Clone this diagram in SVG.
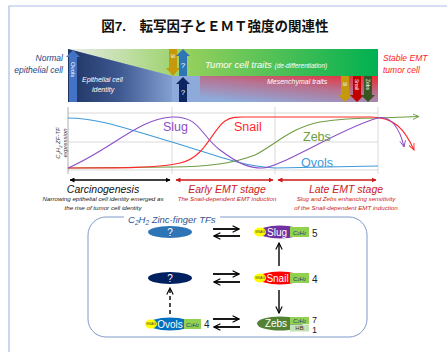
<svg xmlns="http://www.w3.org/2000/svg" width="447" height="352" viewBox="0 0 447 352">
<style>
text{font-family:"Liberation Sans","Noto Sans CJK JP",sans-serif}
.it{font-style:italic}
.w{fill:#fff}
.grid{stroke:#cfcfcf;stroke-width:0.8;fill:none}
.crv{fill:none;stroke-width:1.1}
.xa{stroke:#000;stroke-width:1.8;fill:none}
.c2{fill:#92d050}
.c2t{font-size:6px;font-style:italic;fill:#1f3f7f}
.num{font-size:10px;fill:#222}
.snag{fill:#ffff00}
.snagt{font-size:3.5px;fill:#444}
.nt{font-size:10px;fill:#fff}
</style>
<defs>
<linearGradient id="gGreen" gradientUnits="userSpaceOnUse" x1="68" y1="0" x2="378" y2="0">
<stop offset="0" stop-color="#e8ece6"/>
<stop offset="0.4" stop-color="#92cf5c"/>
<stop offset="1" stop-color="#00b050"/>
</linearGradient>
<linearGradient id="gBlue" gradientUnits="userSpaceOnUse" x1="68" y1="0" x2="180" y2="0">
<stop offset="0" stop-color="#1f3462"/>
<stop offset="0.45" stop-color="#3d5790"/>
<stop offset="1" stop-color="#8eaadb"/>
</linearGradient>
<linearGradient id="gRed" x1="0.25" y1="1" x2="0.9" y2="0">
<stop offset="0" stop-color="#e8303a" stop-opacity="0"/>
<stop offset="0.55" stop-color="#e8303a" stop-opacity="0.45"/>
<stop offset="1" stop-color="#e8303a" stop-opacity="1"/>
</linearGradient>
<marker id="mBlk" viewBox="0 0 10 10" refX="9" refY="5" markerWidth="5" markerHeight="5" orient="auto-start-reverse" markerUnits="userSpaceOnUse">
<path d="M0,0 L10,5 L0,10 z" fill="#000"/>
</marker>
<marker id="mRed" viewBox="0 0 10 10" refX="9" refY="5" markerWidth="5" markerHeight="5" orient="auto-start-reverse" markerUnits="userSpaceOnUse">
<path d="M0,0 L10,5 L0,10 z" fill="#cc1a1a"/>
</marker>
<marker id="mG" viewBox="0 0 10 10" refX="9" refY="5" markerWidth="7" markerHeight="7" orient="auto" markerUnits="userSpaceOnUse">
<path d="M0,1 L9,5 L0,9" fill="none" stroke="#6e9e44" stroke-width="1.3"/>
</marker>
<marker id="mP" viewBox="0 0 10 10" refX="9" refY="5" markerWidth="7" markerHeight="7" orient="auto" markerUnits="userSpaceOnUse">
<path d="M0,1 L9,5 L0,9" fill="none" stroke="#8b4fc8" stroke-width="1.3"/>
</marker>
<marker id="mR" viewBox="0 0 10 10" refX="9" refY="5" markerWidth="7" markerHeight="7" orient="auto" markerUnits="userSpaceOnUse">
<path d="M0,1 L9,5 L0,9" fill="none" stroke="#ff2a2a" stroke-width="1.3"/>
</marker>
<marker id="mV" viewBox="0 0 10 10" refX="9" refY="5" markerWidth="8" markerHeight="8" orient="auto" markerUnits="userSpaceOnUse">
<path d="M1,1 L9,5 L1,9" fill="none" stroke="#000" stroke-width="1.4"/>
</marker>
</defs>

<rect width="447" height="352" fill="#fff"/>
<path d="M9,352 L9,6 L447,6" fill="none" stroke="#a9bce3" stroke-width="1.2"/>

<text x="215" y="31" text-anchor="middle" font-size="13.5" font-weight="bold" fill="#111">図7.　転写因子とＥＭＴ強度の関連性</text>

<!-- top band -->
<g id="band">
<rect x="68" y="49" width="310" height="53" fill="#8eaadb"/>
<polygon points="68,49 378,49 378,76 172,76" fill="url(#gGreen)"/>
<polygon points="68,49 172,76 378,76 378,102 68,102" fill="url(#gBlue)"/>
<rect x="172" y="76" width="206" height="26" fill="#8eaadb"/>
<rect x="200" y="76" width="178" height="26" fill="url(#gRed)"/>
<text x="205" y="68" class="it w" font-size="9.5">Tumor cell traits <tspan font-size="6.5">(de-differentiation)</tspan></text>
<text x="82" y="82" class="it w" font-size="7">Epithelial cell</text>
<text x="92" y="92" class="it w" font-size="7">identity</text>
<text x="267" y="84" class="it w" font-size="7">Mesenchymal traits</text>
</g>

<g id="band-arrows">
<polygon points="69,102 69,57 66,57 73,50 80,57 77,57 77,102" fill="#4472c4"/>
<text transform="translate(71,62) rotate(90)" class="w" font-size="6">Ovols</text>
<polygon points="169,49 177,49 177,68 180,68 173,76 166,68 169,68" fill="#c49a0c"/>
<text transform="translate(171,54) rotate(90)" class="w" font-size="5">Sl</text>
<polygon points="179,76 179,56 176,56 183,49 190,56 187,56 187,76" fill="#2e75b6"/>
<text x="183" y="68" class="w" font-size="8" text-anchor="middle">?</text>
<polygon points="179,102 179,84 176,84 183,77 190,84 187,84 187,102" fill="#0d2560"/>
<text x="183" y="95" class="w" font-size="8" text-anchor="middle">?</text>
<polygon points="341,76 349,76 349,95 352,95 345,102 338,95 341,95" fill="#c49a0c"/>
<text transform="translate(343,82) rotate(90)" class="w" font-size="5">Sl</text>
<polygon points="353,76 361,76 361,95 364,95 357,102 350,95 353,95" fill="#c00000"/>
<text transform="translate(355,79) rotate(90)" class="w" font-size="5">Snail</text>
<polygon points="364,76 372,76 372,95 375,95 368,102 361,95 364,95" fill="#375623"/>
<text transform="translate(366,79) rotate(90)" class="w" font-size="5">Zebs</text>
</g>

<text x="63" y="61" text-anchor="end" class="it" font-size="8.5" fill="#1f3f7f">Normal</text>
<text x="63" y="73" text-anchor="end" class="it" font-size="8.5" fill="#1f3f7f">epithelial cell</text>
<text x="383" y="61" class="it" font-size="8.5" fill="#ff1a1a">Stable EMT</text>
<text x="383" y="73" class="it" font-size="8.5" fill="#ff1a1a">tumor cell</text>

<!-- chart -->
<g id="chart">
<line x1="68" y1="113" x2="378" y2="113" class="grid"/>
<line x1="68" y1="142" x2="378" y2="142" class="grid"/>
<line x1="68" y1="170" x2="378" y2="170" class="grid"/>
<line x1="172" y1="107" x2="172" y2="174" class="grid"/>
<line x1="275" y1="107" x2="275" y2="174" class="grid"/>
<line x1="378" y1="107" x2="378" y2="174" class="grid"/>
<line x1="68" y1="107" x2="68" y2="174" stroke="#9a9a9a" stroke-width="0.8"/>
<text transform="translate(60,143) rotate(-90)" text-anchor="middle" class="it" font-size="6" fill="#333">C<tspan font-size="4" dy="1.5">2</tspan><tspan dy="-1.5">H</tspan><tspan font-size="4" dy="1.5">2</tspan><tspan dy="-1.5"> ZF-TF</tspan></text>
<text transform="translate(67,143) rotate(-90)" text-anchor="middle" class="it" font-size="6" fill="#333">expression</text>
<path class="crv" stroke="#3f9ad9" d="M68,118 C100,118 130,130 172,142 C215,155 240,166 275,168 L378,166"/>
<path class="crv" stroke="#6e9e44" d="M68,168 L172,167 C210,167 235,163 255,155 C275,145 290,128 320,122 C345,118 360,118 378,118 L419,116.5" marker-end="url(#mG)"/>
<path class="crv" stroke="#ff2a2a" d="M68,168 C120,168 160,168 180,163 C205,158 212,130 225,121 C232,116 240,117 250,117 L370,117 C395,117 405,130 414,150" marker-end="url(#mR)"/>
<path class="crv" stroke="#8b4fc8" d="M68,168 C110,150 140,118 172,117 C200,116 200,135 220,150 C240,165 250,168 262,168 C280,168 345,126 378,118 C390,115 400,128 404,147" marker-end="url(#mP)"/>
<text x="163" y="131" font-size="12.5" fill="#8b4fc8">Slug</text>
<text x="234" y="131" font-size="12.5" fill="#ff2a2a">Snail</text>
<text x="303" y="141" font-size="12.5" fill="#6e9e44">Zebs</text>
<text x="301" y="167" font-size="12.5" fill="#3f9ad9">Ovols</text>
</g>

<!-- stages -->
<g id="stages">
<line x1="70" y1="180" x2="170" y2="180" stroke="#000" stroke-width="1.6" marker-start="url(#mBlk)" marker-end="url(#mBlk)"/>
<line x1="176" y1="180" x2="273" y2="180" stroke="#cc1a1a" stroke-width="1.6" marker-start="url(#mRed)" marker-end="url(#mRed)"/>
<line x1="278" y1="180" x2="376" y2="180" stroke="#cc1a1a" stroke-width="1.6" marker-start="url(#mRed)" marker-end="url(#mRed)"/>
<text x="103" y="193" text-anchor="middle" class="it" font-size="10.5" fill="#111">Carcinogenesis</text>
<text x="103" y="201" text-anchor="middle" class="it" font-size="6.2" fill="#222">Narrowing epithelial cell identity emerged as</text>
<text x="103" y="210" text-anchor="middle" class="it" font-size="6.2" fill="#222">the rise of  tumor cell identity</text>
<text x="227" y="193" text-anchor="middle" class="it" font-size="10.5" fill="#cc1a1a">Early EMT stage</text>
<text x="227" y="201" text-anchor="middle" class="it" font-size="6.2" fill="#cc1a1a">The Snail-dependent EMT induction</text>
<text x="346" y="193" text-anchor="middle" class="it" font-size="10.5" fill="#cc1a1a">Late EMT stage</text>
<text x="346" y="201" text-anchor="middle" class="it" font-size="6.2" fill="#cc1a1a">Slug and Zebs enhancing sensitivity</text>
<text x="346" y="210" text-anchor="middle" class="it" font-size="6.2" fill="#cc1a1a">of the Snail-dependent EMT induction</text>
</g>

<!-- bottom box -->
<g id="tf-box">
<rect x="88" y="217" width="279" height="120" rx="18" fill="none" stroke="#7f9bc8" stroke-width="1"/>
<rect x="124" y="212" width="96" height="10" fill="#fff"/>
<text x="128" y="223" class="it" font-size="9.5" fill="#2f5597">C<tspan font-size="6.5" dy="2">2</tspan><tspan dy="-2">H</tspan><tspan font-size="6.5" dy="2">2</tspan><tspan dy="-2"> Zinc-finger TFs</tspan></text>
</g>

<g id="connectors">
<line x1="213" y1="229" x2="239" y2="229" class="xa" marker-end="url(#mV)"/>
<line x1="240" y1="236" x2="214" y2="236" class="xa" marker-end="url(#mV)"/>
<line x1="213" y1="274" x2="239" y2="274" class="xa" marker-end="url(#mV)"/>
<line x1="240" y1="282" x2="214" y2="282" class="xa" marker-end="url(#mV)"/>
<line x1="213" y1="319" x2="239" y2="319" class="xa" marker-end="url(#mV)"/>
<line x1="240" y1="327" x2="214" y2="327" class="xa" marker-end="url(#mV)"/>
<line x1="279" y1="266" x2="279" y2="243" stroke="#000" stroke-width="1.4" marker-end="url(#mV)"/>
<line x1="279" y1="290" x2="279" y2="313" stroke="#000" stroke-width="1.4" marker-end="url(#mV)"/>
<line x1="170" y1="314" x2="170" y2="288" stroke="#000" stroke-width="1.4" stroke-dasharray="4,3" marker-end="url(#mV)"/>
</g>

<g id="q1">
<ellipse cx="170" cy="232" rx="22" ry="6" fill="#2e75b6"/>
<text x="170" y="235.5" class="nt" text-anchor="middle">?</text>
</g>
<g id="slug">
<ellipse cx="280" cy="232" rx="22" ry="6.5" fill="#7030a0"/>
<ellipse cx="260" cy="232" rx="6" ry="4.5" class="snag"/>
<text x="260" y="233.3" class="snagt" text-anchor="middle">SNAG</text>
<text x="277" y="235.5" class="nt" text-anchor="middle">Slug</text>
<rect x="290" y="227" width="19" height="10" class="c2"/>
<text x="299.5" y="234.5" class="c2t" text-anchor="middle">C<tspan font-size="4">2</tspan>H<tspan font-size="4">2</tspan></text>
<text x="312" y="237" class="num">5</text>
</g>
<g id="q2">
<ellipse cx="170" cy="278" rx="22" ry="6" fill="#002060"/>
<text x="170" y="281.5" class="nt" text-anchor="middle">?</text>
</g>
<g id="snail">
<ellipse cx="280" cy="278" rx="22" ry="6.5" fill="#ff0000"/>
<ellipse cx="260" cy="278" rx="6" ry="4.5" class="snag"/>
<text x="260" y="279.3" class="snagt" text-anchor="middle">SNAG</text>
<text x="277.5" y="281.5" class="nt" text-anchor="middle">Snail</text>
<rect x="290" y="273" width="19" height="10" class="c2"/>
<text x="299.5" y="280.5" class="c2t" text-anchor="middle">C<tspan font-size="4">2</tspan>H<tspan font-size="4">2</tspan></text>
<text x="312" y="283" class="num">4</text>
</g>
<g id="ovols">
<ellipse cx="170" cy="324" rx="22" ry="6.5" fill="#0070c0"/>
<ellipse cx="151" cy="324" rx="6" ry="4.5" class="snag"/>
<text x="151" y="325.3" class="snagt" text-anchor="middle">SNAG</text>
<text x="170" y="327.5" class="nt" text-anchor="middle">Ovols</text>
<rect x="184" y="319" width="17" height="10" class="c2"/>
<text x="192.5" y="326.5" class="c2t" text-anchor="middle">C<tspan font-size="4">2</tspan>H<tspan font-size="4">2</tspan></text>
<text x="204" y="328" class="num">4</text>
</g>
<g id="zebs">
<ellipse cx="280" cy="323.5" rx="23" ry="7" fill="#548235"/>
<text x="276" y="327" class="nt" text-anchor="middle">Zebs</text>
<rect x="290" y="317" width="19" height="7" class="c2"/>
<text x="299.5" y="322.5" class="c2t" text-anchor="middle">C<tspan font-size="4">2</tspan>H<tspan font-size="4">2</tspan></text>
<rect x="290" y="324.5" width="19" height="7" fill="#c5e0b4"/>
<text x="299.5" y="330.3" font-size="6" fill="#333" text-anchor="middle">HB</text>
<text x="312" y="322.5" font-size="9" fill="#222">7</text>
<text x="312" y="333" font-size="9" fill="#222">1</text>
</g>
</svg>
